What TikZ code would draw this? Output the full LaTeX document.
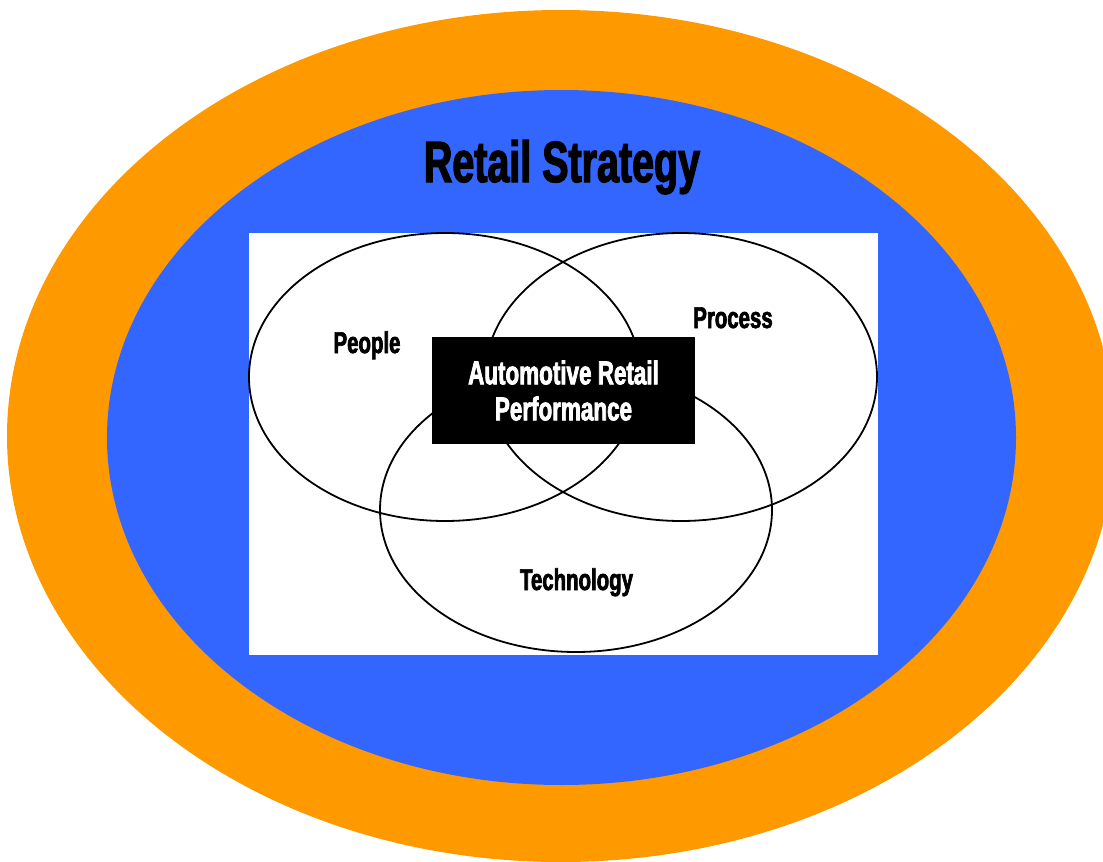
\documentclass[tikz,border=0pt]{standalone}
\usepackage{fontspec}
\usepackage{xcolor}
\usepackage{tikz}
\usetikzlibrary{shapes.geometric, positioning}

% narrow heavy face for all labels
\newfontfamily\heavyfont{Liberation Sans}[FakeStretch=0.68, FakeBold=2.2]

\definecolor{ringorange}{HTML}{FF9900}
\definecolor{stratblue}{HTML}{3366FF}

\begin{document}
\begin{tikzpicture}[
  x=1pt, y=-1pt,
  ring/.style={
    ellipse, draw=none, inner sep=0pt},
  vennset/.style={
    ellipse, draw=black, line width=1.8pt, inner sep=0pt,
    minimum width=392pt, minimum height=288pt},
  setlbl/.style={
    anchor=base, inner sep=0pt,
    font=\heavyfont\bfseries\fontsize{30}{32}\selectfont},
  corebox/.style={
    rectangle, fill=black, text=white, inner sep=0pt,
    minimum width=263pt, minimum height=107pt, align=center,
    font=\heavyfont\bfseries\fontsize{33}{36}\selectfont},
  titlelbl/.style={
    anchor=base, inner sep=0pt,
    font=\heavyfont\bfseries\fontsize{58}{60}\selectfont},
]
\useasboundingbox (0,0) rectangle (1103,862);

%% ---- Strategy rings ----
\node[ring, fill=ringorange, minimum width=1108pt, minimum height=852pt]
  (outer) at (561, 436) {};
\node[ring, fill=stratblue, minimum width=909pt, minimum height=695pt]
  (inner) at (561.5, 437.5) {};

\node[titlelbl] (strategy) at (562, 182) {Retail Strategy};

%% ---- Venn panel ----
\node[rectangle, fill=white, inner sep=0pt,
  minimum width=629pt, minimum height=422pt] (panel) at (563.5, 444) {};

\node[vennset] (people)  at (445, 377) {};
\node[vennset] (process) at (681, 377) {};
\node[vennset, minimum height=284pt] (tech) at (576, 510) {};

\node[corebox] (core) at (563.5, 390.5)
  {Automotive Retail\\Performance};

%% ---- Set labels ----
\node[setlbl] (peoplelbl)  at (367, 353) {People};
\node[setlbl] (processlbl) at (733, 328) {Process};
\node[setlbl] (techlbl)    at (576.5, 590) {Technology};

\end{tikzpicture}
\end{document}
